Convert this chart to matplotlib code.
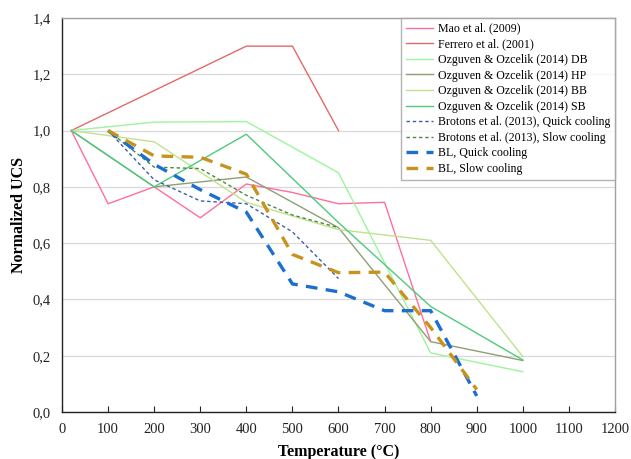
import matplotlib
matplotlib.use("Agg")
import matplotlib.pyplot as plt

plt.rcParams['font.family'] = ['Liberation Serif', 'DejaVu Serif']

mao_T = [20, 100, 200, 300, 400, 500, 600, 700, 800]
mao_v = [1.0, 0.74, 0.80, 0.69, 0.81, 0.78, 0.74, 0.745, 0.25]

fer_T = [20, 400, 500, 600]
fer_v = [1.0, 1.30, 1.30, 1.0]

db_T = [20, 200, 400, 600, 800, 1000]
db_v = [1.0, 1.03, 1.032, 0.85, 0.21, 0.143]

hp_T = [20, 200, 400, 600, 800, 1000]
hp_v = [1.0, 0.80, 0.835, 0.655, 0.25, 0.183]

bb_T = [20, 200, 400, 600, 800, 1000]
bb_v = [1.0, 0.96, 0.745, 0.648, 0.61, 0.197]

sb_T = [20, 200, 400, 600, 800, 1000]
sb_v = [1.0, 0.80, 0.987, 0.673, 0.375, 0.185]

brq_T = [100, 200, 300, 400, 500, 600]
brq_v = [1.0, 0.825, 0.75, 0.74, 0.64, 0.474]

brs_T = [100, 200, 300, 400, 500, 600]
brs_v = [1.0, 0.87, 0.865, 0.77, 0.70, 0.655]

blq_T = [100, 200, 300, 400, 500, 600, 700, 800, 900]
blq_v = [1.0, 0.88, 0.79, 0.71, 0.455, 0.427, 0.36, 0.36, 0.057]

bls_T = [100, 200, 300, 400, 500, 600, 700, 800, 900]
bls_v = [1.0, 0.91, 0.905, 0.845, 0.56, 0.495, 0.497, 0.30, 0.08]

x_ticks = list(range(0, 1201, 100))
y_ticks = [0.0, 0.2, 0.4, 0.6, 0.8, 1.0, 1.2, 1.4]
y_labels = ['0,0', '0,2', '0,4', '0,6', '0,8', '1,0', '1,2', '1,4']

fig = plt.figure(figsize=(6.31, 4.59), dpi=100)
ax = fig.add_axes([0.0983, 0.1024, 0.8763, 0.8584])

ax.plot(mao_T, mao_v, color='#ff6f9c', lw=1.0, label='Mao et al. (2009)')
ax.plot(fer_T, fer_v, color='#e06a6a', lw=1.0, label='Ferrero et al. (2001)')
ax.plot(db_T, db_v, color='#9cf59c', lw=1.0, label='Ozguven & Ozcelik (2014) DB')
ax.plot(hp_T, hp_v, color='#8f9f74', lw=1.0, label='Ozguven & Ozcelik (2014) HP')
ax.plot(bb_T, bb_v, color='#bfe38c', lw=1.0, label='Ozguven & Ozcelik (2014) BB')
ax.plot(sb_T, sb_v, color='#4ccb7c', lw=1.0, label='Ozguven & Ozcelik (2014) SB')
ax.plot(brq_T, brq_v, color='#3a5fa8', lw=1.0, dashes=(2.5, 2.0),
        label='Brotons et al. (2013), Quick cooling')
ax.plot(brs_T, brs_v, color='#4a8a3a', lw=1.0, dashes=(2.5, 2.0),
        label='Brotons et al. (2013), Slow cooling')
ax.plot(blq_T, blq_v, color='#1a6fd0', lw=2.4, dashes=(3.5, 2.5),
        label='BL, Quick cooling')
ax.plot(bls_T, bls_v, color='#c8921c', lw=2.4, dashes=(3.5, 2.5),
        label='BL, Slow cooling')

ax.set_xlim(0, 1200)
ax.set_ylim(0, 1.4)
ax.set_xticks(x_ticks)
ax.set_yticks(y_ticks)
ax.set_yticklabels(y_labels)
ax.tick_params(axis='both', direction='in', length=4, width=0.8,
               labelsize=10.5, colors='#222222')
ax.tick_params(axis='x', pad=8)
ax.tick_params(axis='y', length=0, pad=8)
ax.grid(axis='y', color='#d9d9d9', lw=0.9)
ax.set_axisbelow(True)
for s in ['left', 'bottom']:
    ax.spines[s].set_color('#222222')
    ax.spines[s].set_linewidth(1.0)
for s in ['top', 'right']:
    ax.spines[s].set_color('#a0a0a0')
    ax.spines[s].set_linewidth(1.0)

ax.set_xlabel('Temperature (\u00b0C)', fontsize=11.5, fontweight='bold', labelpad=6)
ax.set_ylabel('Normalized UCS', fontsize=11.5, fontweight='bold', labelpad=4)

leg = ax.legend(loc='upper right', bbox_to_anchor=(1.0, 1.0), fontsize=8.6,
                frameon=True, fancybox=False, handlelength=2.3,
                borderpad=0.4, labelspacing=0.3, handletextpad=0.4,
                borderaxespad=0.0)
leg.get_frame().set_edgecolor('#a0a0a0')
leg.get_frame().set_linewidth(1.0)

fig.savefig('out.png', dpi=100)
